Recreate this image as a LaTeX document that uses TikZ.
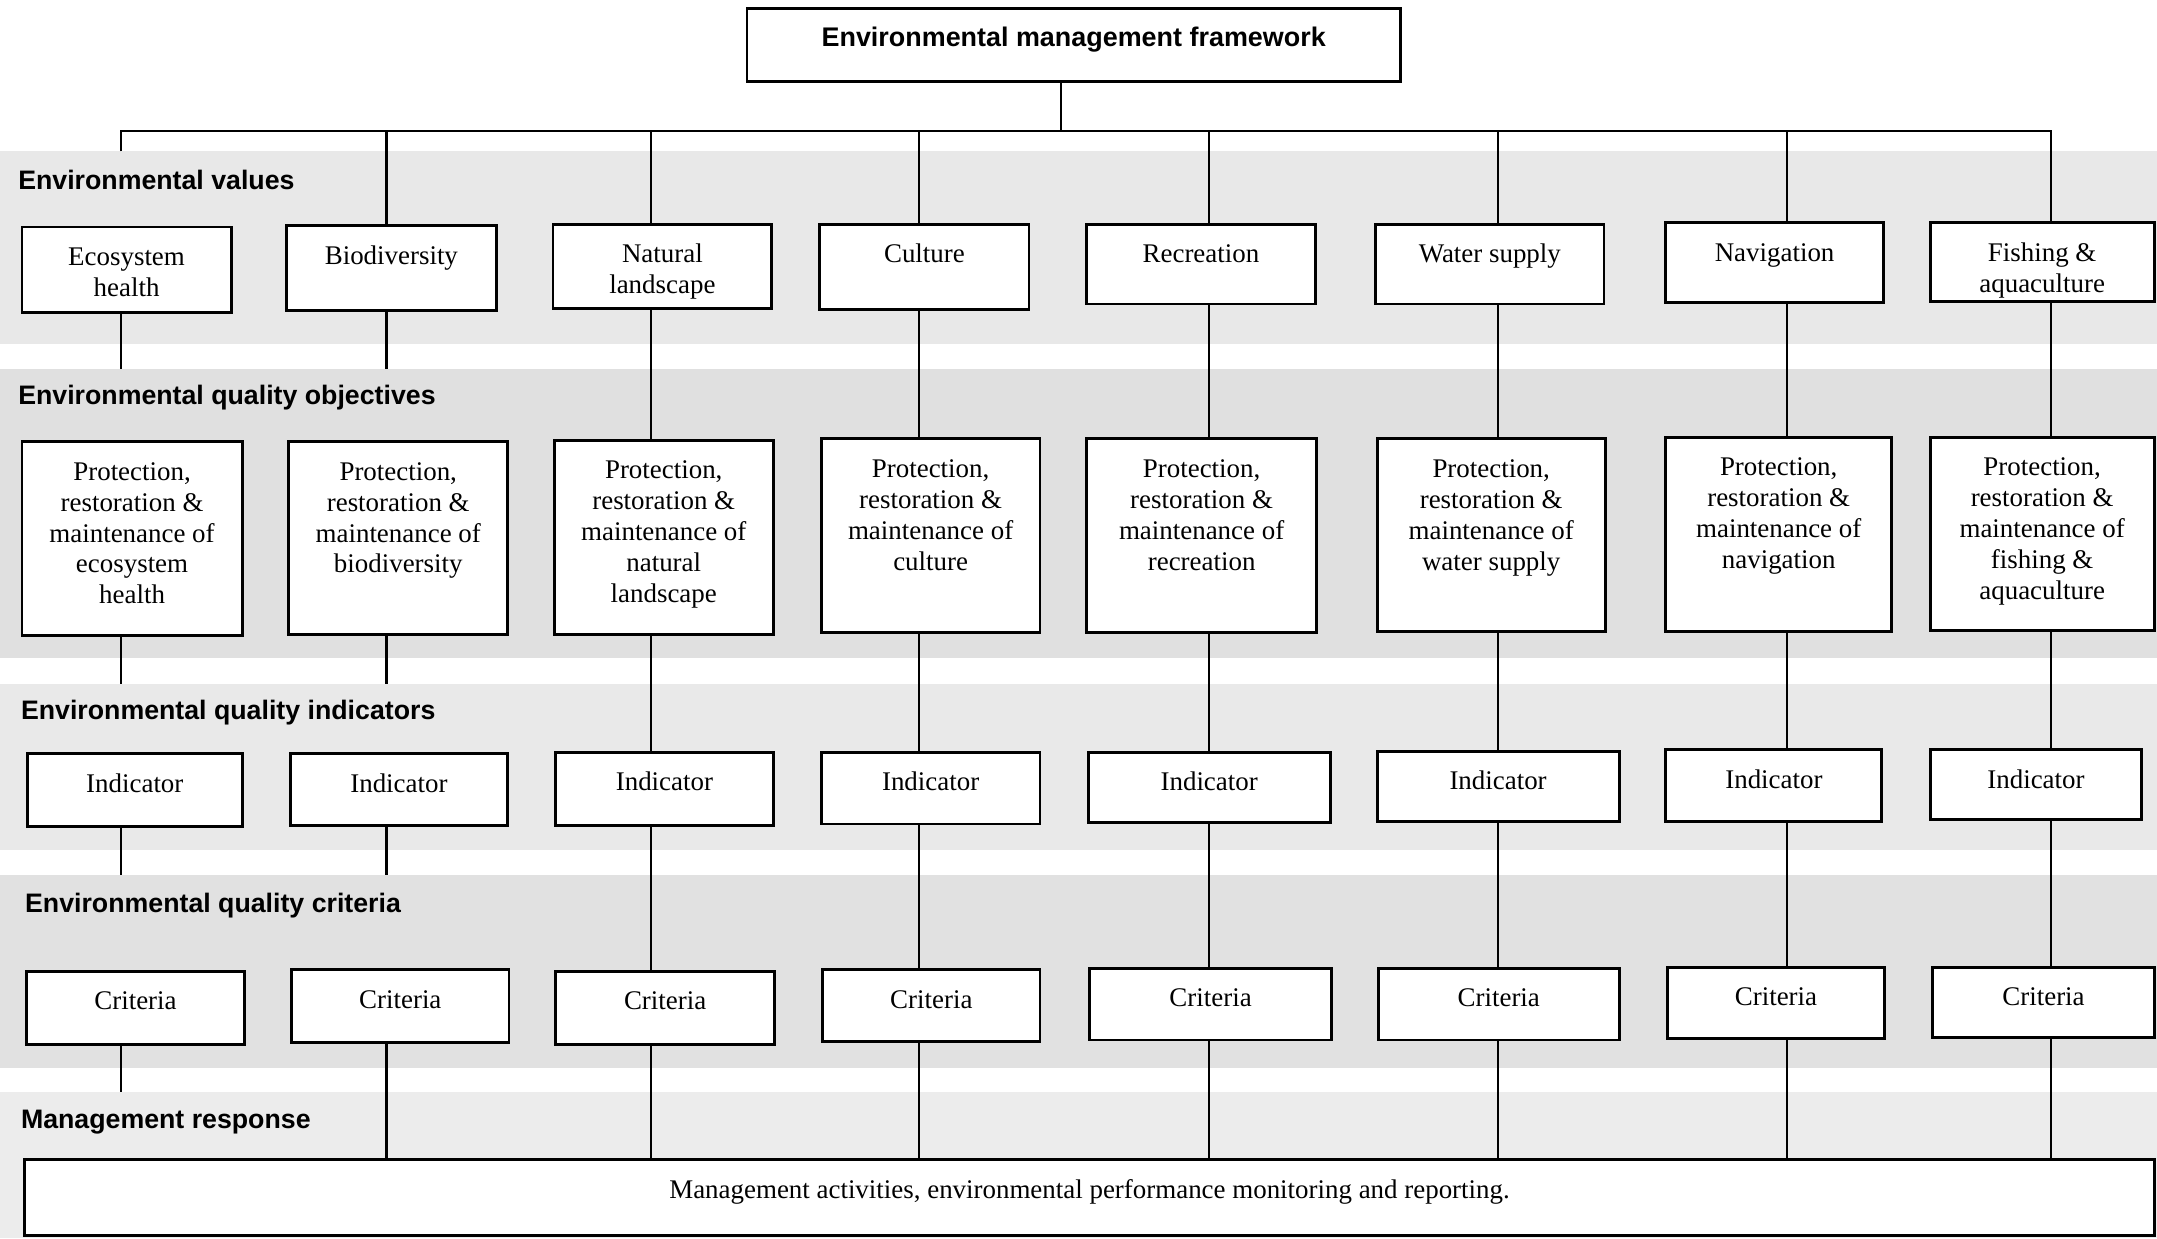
\documentclass[tikz,border=0pt]{standalone}
\usepackage{fontspec}
\setmainfont{Liberation Serif}
\newfontfamily\hfont{Liberation Sans}
\definecolor{bandA}{HTML}{E8E8E8}
\definecolor{bandB}{HTML}{E0E0E0}
\definecolor{bandC}{HTML}{E9E9E9}
\definecolor{bandD}{HTML}{E1E1E1}
\definecolor{bandE}{HTML}{ECECEC}
\tikzset{
  boxst/.style={draw=black, line width=1.5pt, fill=white, inner sep=0pt},
  conn/.style={line width=1.1pt, draw=black},
  lbl/.style={anchor=base west, inner sep=0pt, font=\hfont\bfseries\fontsize{13.6}{16}\selectfont},
}
\newcommand{\mybox}[6]{\node[boxst] (#1) at ({(#2+#4)/2},{(#3+#5)/2}) {\parbox[c][\dimexpr 0.7pt*(#5-#3)\relax][t]{\dimexpr 0.7pt*(#4-#2)\relax}{\centering\fontsize{13.7}{15.75}\selectfont\rule{0pt}{19.6pt}#6\par}};}
\begin{document}
\begin{tikzpicture}[x=0.7pt, y=-0.7pt]
\useasboundingbox (0,0) rectangle (1568,900);
% bands
\fill[bandA] (0,110) rectangle (1568,250);
\fill[bandB] (0,268) rectangle (1568,478);
\fill[bandC] (0,497) rectangle (1568,618);
\fill[bandD] (0,636) rectangle (1568,776);
\fill[bandE] (0,794) rectangle (1568,900);
% band labels
\node[lbl] (l1) at (13,138) {Environmental values};
\node[lbl] (l2) at (13,294) {Environmental quality objectives};
\node[lbl] (l3) at (15,523) {Environmental quality indicators};
\node[lbl] (l4) at (18,663) {Environmental quality criteria};
\node[lbl] (l5) at (15,820) {Management response};
% coordinates
\coordinate (bus) at (0,95);
\coordinate (b1) at (0,110);
\coordinate (b2) at (0,268);
\coordinate (b3) at (0,497);
\coordinate (b4) at (0,636);
\coordinate (b5) at (0,794);
\coordinate (ct) at (771,0);
\coordinate (c1) at (88,0);
\coordinate (c2) at (281,0);
\coordinate (c3) at (473,0);
\coordinate (c4) at (668,0);
\coordinate (c5) at (879,0);
\coordinate (c6) at (1089,0);
\coordinate (c7) at (1299,0);
\coordinate (c8) at (1491,0);
% top box
\mybox{top}{543}{6}{1018}{59}{\hfont\bfseries Environmental management framework}
% values
\mybox{v1}{16}{165}{168}{227}{Ecosystem\\health}
\mybox{v2}{208}{164}{361}{226}{Biodiversity}
\mybox{v3}{402}{163}{561}{224}{Natural\\landscape}
\mybox{v4}{596}{163}{748}{225}{Culture}
\mybox{v5}{790}{163}{956}{221}{Recreation}
\mybox{v6}{1000}{163}{1166}{221}{Water supply}
\mybox{v7}{1211}{162}{1369}{220}{Navigation}
\mybox{v8}{1403}{162}{1566}{219}{Fishing \&\\aquaculture}
% objectives
\mybox{q1}{16}{321}{176}{462}{Protection,\\restoration \&\\maintenance of\\ecosystem\\health}
\mybox{q2}{210}{321}{369}{461}{Protection,\\restoration \&\\maintenance of\\biodiversity}
\mybox{q3}{403}{320}{562}{461}{Protection,\\restoration \&\\maintenance of\\natural\\landscape}
\mybox{q4}{597}{319}{756}{460}{Protection,\\restoration \&\\maintenance of\\culture}
\mybox{q5}{790}{319}{957}{460}{Protection,\\restoration \&\\maintenance of\\recreation}
\mybox{q6}{1001}{319}{1167}{459}{Protection,\\restoration \&\\maintenance of\\water supply}
\mybox{q7}{1211}{318}{1375}{459}{Protection,\\restoration \&\\maintenance of\\navigation}
\mybox{q8}{1403}{318}{1566}{458}{Protection,\\restoration \&\\maintenance of\\fishing \&\\aquaculture}
% indicators
\mybox{n1}{20}{548}{176}{601}{Indicator}
\mybox{n2}{211}{548}{369}{600}{Indicator}
\mybox{n3}{404}{547}{562}{600}{Indicator}
\mybox{n4}{597}{547}{756}{599}{Indicator}
\mybox{n5}{791}{547}{967}{598}{Indicator}
\mybox{n6}{1001}{546}{1177}{597}{Indicator}
\mybox{n7}{1211}{545}{1368}{597}{Indicator}
\mybox{n8}{1403}{545}{1557}{596}{Indicator}
% criteria
\mybox{k1}{19}{706}{178}{759}{Criteria}
\mybox{k2}{212}{705}{370}{758}{Criteria}
\mybox{k3}{404}{706}{563}{759}{Criteria}
\mybox{k4}{598}{705}{756}{757}{Criteria}
\mybox{k5}{792}{704}{968}{756}{Criteria}
\mybox{k6}{1002}{704}{1177}{756}{Criteria}
\mybox{k7}{1212}{703}{1370}{755}{Criteria}
\mybox{k8}{1405}{703}{1566}{754}{Criteria}
% management
\mybox{mg}{18}{843}{1566}{898}{\rule{0pt}{1pt}Management activities, environmental performance monitoring and reporting.}
% connectors
\draw[conn] (top.south -| ct) -- (ct |- bus);
\draw[conn] (c1 |- b1) -- (c1 |- bus) -- (c8 |- bus) -- (v8.north -| c8);
\foreach \i in {2,...,7} {\draw[conn] (c\i |- bus) -- (v\i.north -| c\i);}
\foreach \i in {1,2} {
  \draw[conn] (v\i.south -| c\i) -- (c\i |- b2);
  \draw[conn] (q\i.south -| c\i) -- (c\i |- b3);
  \draw[conn] (n\i.south -| c\i) -- (c\i |- b4);
}
\foreach \i in {3,...,8} {
  \draw[conn] (v\i.south -| c\i) -- (q\i.north -| c\i);
  \draw[conn] (q\i.south -| c\i) -- (n\i.north -| c\i);
  \draw[conn] (n\i.south -| c\i) -- (k\i.north -| c\i);
}
\draw[conn] (k1.south -| c1) -- (c1 |- b5);
\foreach \i in {2,...,8} {\draw[conn] (k\i.south -| c\i) -- (mg.north -| c\i);}
\end{tikzpicture}
\end{document}
